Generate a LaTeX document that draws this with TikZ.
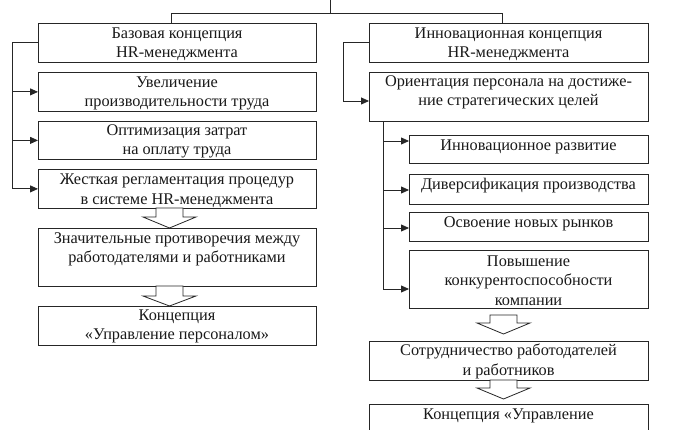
\documentclass[tikz,border=0pt]{standalone}
\usepackage{fontspec}
\setmainfont{Liberation Serif}
\usetikzlibrary{arrows.meta}
\tikzset{
  box/.style={draw=black!85, line width=0.8pt, rectangle, inner sep=0pt, anchor=north west},
  txt/.style={align=center, inner sep=0pt, text=black!90, font=\fontsize{16.3}{19.5}\selectfont},
  conn/.style={draw=black!85, line width=0.8pt},
  arr/.style={conn, -{Triangle[length=8pt,width=7pt]}},
}
\newcommand\hollowarr[4]{%
  \draw[conn, fill=white] (#1-13.5,#2) -- (#1+13.5,#2) -- (#1+13.5,#3) -- (#1+26.5,#3)
    -- (#1,#4) -- (#1-26.5,#3) -- (#1-13.5,#3) -- cycle;}
\begin{document}
\begin{tikzpicture}[x=1pt,y=-1pt]
\useasboundingbox[fill=white] (0,0) rectangle (690,430);
\clip (0,0) rectangle (690,430);
% left column
\node[box, minimum width=278pt, minimum height=39pt] (L1) at (38,23) {};
\node[box, minimum width=278pt, minimum height=39pt] (L2) at (38,72) {};
\node[box, minimum width=278pt, minimum height=38pt] (L3) at (38,121) {};
\node[box, minimum width=278pt, minimum height=39pt] (L4) at (38,169) {};
\node[box, minimum width=278pt, minimum height=58pt] (L5) at (38,228) {};
\node[box, minimum width=278pt, minimum height=39pt] (L6) at (38,306) {};
\node[txt] (tL1) at (177,44) {Базовая концепция\\HR-менеджмента};
\node[txt] (tL2) at (177,93.5) {Увеличение\\производительности труда};
\node[txt] (tL3) at (177,141.5) {Оптимизация затрат\\на оплату труда};
\node[txt] (tL4) at (177,190.5) {Жесткая регламентация процедур\\в системе HR-менеджмента};
\node[txt] (tL5) at (177,249.5) {Значительные противоречия между\\работодателями и работниками};
\node[txt] (tL6) at (177,326.5) {Концепция\\«Управление персоналом»};
% right column
\node[box, minimum width=279pt, minimum height=39pt] (R1) at (369,23) {};
\node[box, minimum width=279pt, minimum height=49pt] (R2) at (369,72) {};
\node[box, minimum width=239pt, minimum height=28pt] (S1) at (409,135) {};
\node[box, minimum width=239pt, minimum height=30pt] (S2) at (409,174) {};
\node[box, minimum width=239pt, minimum height=29pt] (S3) at (409,212) {};
\node[box, minimum width=239pt, minimum height=58pt] (S4) at (409,250) {};
\node[box, minimum width=279pt, minimum height=39pt] (R3) at (369,341) {};
\node[box, minimum width=279pt, minimum height=60pt] (R4) at (369,404) {};
\node[txt] (tR1) at (508.5,44) {Инновационная концепция\\HR-менеджмента};
\node[txt] (tR2) at (508.5,92.5) {Ориентация персонала на достиже-\\ние стратегических целей};
\node[txt] (tS1) at (528.5,146.5) {Инновационное развитие};
\node[txt] (tS2) at (528.5,185.5) {Диверсификация производства};
\node[txt] (tS3) at (528.5,223.5) {Освоение новых рынков};
\node[txt] (tS4) at (528.5,280.5) {Повышение\\конкурентоспособности\\компании};
\node[txt] (tR3) at (508.5,361.5) {Сотрудничество работодателей\\и работников};
\node[txt] (tR4) at (508.5,415.5) {Концепция «Управление};
% top connector
\coordinate (top) at (330,0);
\coordinate (jL) at (171,13);
\coordinate (jR) at (502,13);
\draw[conn] (top) -- (330,13);
\draw[conn] (jL |- L1.north) -- (jL) -- (jR) -- (jR |- R1.north);
% left bracket
\coordinate (bl) at (12,0);
\draw[conn] (L1.west) -- (bl |- L1.west) -- (bl |- L4.west);
\draw[arr] (bl |- L2.west) -- (L2.west);
\draw[arr] (bl |- L3.west) -- (L3.west);
\draw[arr] (bl |- L4.west) -- (L4.west);
% right bracket
\coordinate (br) at (343,0);
\draw[conn] (R1.west) -- (br |- R1.west) -- (br |- 0,101);
\draw[arr] (br |- 0,101) -- (R2.west |- 0,101);
% inner bracket
\coordinate (bi) at (383,0);
\draw[conn] (bi |- R2.south) -- (bi |- 0,289);
\draw[arr] (bi |- 0,141) -- (S1.west |- 0,141);
\draw[arr] (bi |- 0,190) -- (S2.west |- 0,190);
\draw[arr] (bi |- 0,228) -- (S3.west |- 0,228);
\draw[arr] (bi |- 0,289) -- (S4.west |- 0,289);
% hollow arrows
\hollowarr{169.5}{208}{217}{228}
\hollowarr{169.5}{286}{296}{306}
\hollowarr{503.5}{315}{323}{334}
\hollowarr{503.5}{380}{388}{399}
\end{tikzpicture}
\end{document}
